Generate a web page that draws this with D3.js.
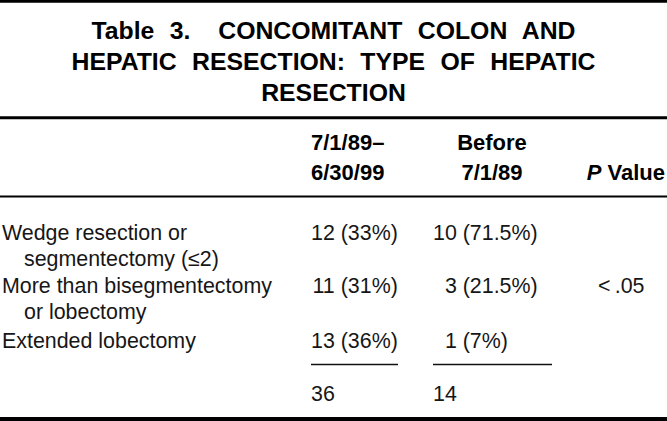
<!DOCTYPE html>
<html>
<head>
<meta charset="utf-8">
<script src="https://cdn.jsdelivr.net/npm/d3@7"></script>
<style>
  html, body { margin: 0; padding: 0; background: #fff; }
  svg text { font-family: "Liberation Sans", Arial, Helvetica, sans-serif; white-space: pre; }
</style>
</head>
<body>
<svg id="chart" width="667" height="421"></svg>
<script>
// ---- data ----
const titleLines = ["Table 3.\u2002 CONCOMITANT COLON AND", "HEPATIC RESECTION: TYPE OF HEPATIC", "RESECTION"];
const columnHeaders = [["7/1/89\u2013", "6/30/99"], ["Before", "7/1/89"]];
const pHeader = "Value";
const categories = [
  ["Wedge resection or", "segmentectomy (\u22642)"],
  ["More than bisegmentectomy", "or lobectomy"],
  ["Extended lobectomy"]
];
const countsRecent = [12, 11, 13];
const pctRecent = ["33%", "31%", "36%"];
const countsBefore = [10, 3, 1];
const pctBefore = ["71.5%", "21.5%", "7%"];
const totals = [36, 14];
const pValue = "<\u2009.05";

// ---- layout ----
const W = 667, H = 421;
const svg = d3.select("#chart");

// horizontal rules
const rules = [
  { y: 1.3, w: 3 },
  { y: 117.8, w: 3 },
  { y: 196.5, w: 2.2 },
  { y: 419, w: 4 }
];
svg.selectAll("line.rule").data(rules).join("line")
  .attr("class", "rule")
  .attr("x1", 0).attr("x2", W)
  .attr("y1", d => d.y).attr("y2", d => d.y)
  .attr("stroke", "#000").attr("stroke-width", d => d.w);

// title
const titleY = d3.scaleLinear().domain([0, 1]).range([39, 70]);
svg.selectAll("text.title").data(titleLines).join("text")
  .attr("class", "title")
  .attr("x", W / 2)
  .attr("y", (d, i) => titleY(i))
  .attr("text-anchor", "middle")
  .attr("font-weight", "bold")
  .attr("font-size", 24.8)
  .attr("word-spacing", 8.5)
  .text(d => d);

// columns
const colX = d3.scaleOrdinal().domain(["label", "indent", "recent", "before", "p"])
  .range([2, 24, 311, 433, 598]);
const FS = 21.4;
const digitW = FS * 0.556;

// header
const headY = d3.scaleLinear().domain([0, 1]).range([150, 180]);
const hdr = svg.append("g").attr("font-weight", "bold").attr("font-size", 22);
hdr.append("text").attr("x", colX("recent")).attr("y", headY(0)).text(columnHeaders[0][0]);
hdr.append("text").attr("x", colX("recent")).attr("y", headY(1)).text(columnHeaders[0][1]);
hdr.append("text").attr("x", 492).attr("y", headY(0)).attr("text-anchor", "middle").text(columnHeaders[1][0]);
hdr.append("text").attr("x", 492).attr("y", headY(1)).attr("text-anchor", "middle").text(columnHeaders[1][1]);
const ph = hdr.append("text").attr("x", 665).attr("y", headY(1)).attr("text-anchor", "end");
ph.append("tspan").attr("font-style", "italic").text("P");
ph.append("tspan").text(" " + pHeader);

// body rows
const lineY = d3.scaleLinear().domain([0, 1]).range([239.5, 266]);
let lineIdx = 0;
const rowStart = categories.map(c => { const s = lineIdx; lineIdx += c.length; return s; });
rowStart[2] += 0.1;

const body = svg.append("g").attr("font-size", FS).attr("fill", "#161616");
categories.forEach((lines, r) => {
  lines.forEach((t, k) => {
    body.append("text")
      .attr("x", k === 0 ? colX("label") : colX("indent"))
      .attr("y", lineY(rowStart[r] + k))
      .text(t);
  });
  const y = lineY(rowStart[r]);
  body.append("text").attr("x", colX("recent") + 2 * digitW).attr("y", y)
    .attr("text-anchor", "end").text(countsRecent[r]);
  body.append("text").attr("x", colX("recent") + 2 * digitW).attr("y", y)
    .text(" (" + pctRecent[r] + ")");
  body.append("text").attr("x", colX("before") + 2 * digitW).attr("y", y)
    .attr("text-anchor", "end").text(countsBefore[r]);
  body.append("text").attr("x", colX("before") + 2 * digitW).attr("y", y)
    .text(" (" + pctBefore[r] + ")");
});
// P value in middle row
body.append("text").attr("x", colX("p")).attr("y", lineY(rowStart[1]))
  .text(pValue);

// underlines
const ulines = [{ x1: 311, x2: 398 }, { x1: 433, x2: 552 }];
svg.selectAll("line.ul").data(ulines).join("line")
  .attr("class", "ul")
  .attr("x1", d => d.x1).attr("x2", d => d.x2)
  .attr("y1", 364.5).attr("y2", 364.5)
  .attr("stroke", "#111").attr("stroke-width", 1.3);

// totals
body.selectAll("text.total").data(totals).join("text")
  .attr("class", "total")
  .attr("x", (d, i) => i === 0 ? colX("recent") : colX("before"))
  .attr("y", 401)
  .text(d => d);
</script>
</body>
</html>
